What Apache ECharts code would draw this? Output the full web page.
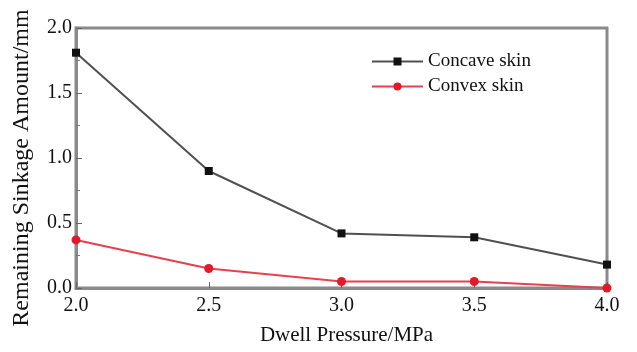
<!DOCTYPE html>
<html>
<head>
<meta charset="utf-8">
<script src="https://cdn.jsdelivr.net/npm/echarts@6/dist/echarts.min.js"></script>
<style>
	html, body { margin: 0; padding: 0; background: #fff; }
	#chart01 { width: 637px; height: 352px; }
</style>
</head>
<body>
<div id="chart01"></div>
<script>
// 데이터
const pressure = [2.0, 2.5, 3.0, 3.5, 4.0];
const concaveSkin = [1.81, 0.90, 0.42, 0.39, 0.18];
const convexSkin = [0.37, 0.15, 0.05, 0.05, 0.0];

const pair = (ys) => pressure.map((x, i) => [x, ys[i]]);
const FONT = '"Liberation Serif", "DejaVu Serif", serif';

const option = {
	animation: false,
	textStyle: { fontFamily: FONT },
	grid: {
		left: 76,
		right: 30,
		top: 28,
		bottom: 64,
		show: true,
		borderColor: '#8a8a8a',
		borderWidth: 3,
		backgroundColor: 'transparent'
	},
	legend: {
		left: 366,
		top: 47,
		orient: 'vertical',
		itemGap: 6,
		itemWidth: 51,
		itemHeight: 10,
		textStyle: { fontFamily: FONT, fontSize: 19, color: '#111' },
		data: ['Concave skin', 'Convex skin']
	},
	xAxis: {
		type: 'value',
		min: 2.0,
		max: 4.0,
		interval: 0.5,
		name: 'Dwell Pressure/MPa',
		nameLocation: 'middle',
		nameGap: 37,
		nameTextStyle: { fontFamily: FONT, fontSize: 21, color: '#111', padding: [0, 0, 0, 10] },
		axisLine: { lineStyle: { color: '#8a8a8a', width: 3 } },
		axisTick: { inside: true, length: 6, lineStyle: { color: '#666' } },
		axisLabel: {
			fontFamily: FONT, fontSize: 20, color: '#111', margin: 8,
			formatter: (v) => v.toFixed(1)
		},
		splitLine: { show: false }
	},
	yAxis: {
		type: 'value',
		min: 0,
		max: 2.0,
		interval: 0.5,
		name: 'Remaining Sinkage Amount/mm',
		nameLocation: 'middle',
		nameGap: 42,
		nameTextStyle: { fontFamily: FONT, fontSize: 24, color: '#111', padding: [0, 20, 0, 0] },
		axisLine: { show: true, lineStyle: { color: '#8a8a8a', width: 3 } },
		axisTick: { inside: true, length: 6, lineStyle: { color: '#666' } },
		minorTick: { show: true, splitNumber: 2, length: 4, lineStyle: { color: '#777' } },
		axisLabel: {
			fontFamily: FONT, fontSize: 20, color: '#111', margin: 4,
			formatter: (v) => v.toFixed(1)
		},
		splitLine: { show: false }
	},
	series: [
		{
			name: 'Concave skin',
			type: 'line',
			data: pair(concaveSkin),
			symbol: 'rect',
			symbolSize: 8,
			lineStyle: { color: '#505050', width: 2 },
			itemStyle: { color: '#111111' },
			z: 2
		},
		{
			name: 'Convex skin',
			type: 'line',
			data: pair(convexSkin),
			symbol: 'circle',
			symbolSize: 9,
			lineStyle: { color: '#e8404f', width: 2 },
			itemStyle: { color: '#e0192b' },
			z: 3
		}
	]
};

const myChart = echarts.init(document.getElementById('chart01'), null, { renderer: 'canvas' });
myChart.setOption(option);
window.addEventListener('resize', myChart.resize);
</script>
</body>
</html>
